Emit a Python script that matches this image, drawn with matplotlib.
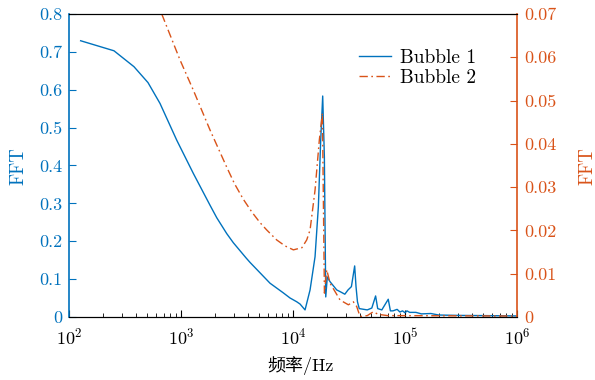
import matplotlib
matplotlib.use("Agg")
import matplotlib.pyplot as plt
from matplotlib.ticker import FuncFormatter, FixedLocator, LogLocator, NullFormatter

# ---- data ----
f1 = [127, 252, 380, 507, 649, 915, 1288, 1815, 2084, 2560, 2930, 3804, 4130, 6232,
      8147, 9400, 10790, 11550, 12800, 14190, 15720, 16830, 17660, 18400, 19040, 19590,
      20230, 21400, 24550, 26300, 29000, 30970, 33200, 35500, 36500, 37600, 39000,
      46000, 50500, 54600, 57000, 62000, 70800, 74000, 78000, 85000, 90000, 95000,
      100000, 104000, 110000, 125000, 140000, 170000, 200000, 300000, 500000, 1000000]
y1 = [0.7295, 0.703, 0.661, 0.619, 0.564, 0.467, 0.379, 0.295, 0.262, 0.220, 0.196,
      0.156, 0.144, 0.089, 0.064, 0.050, 0.040, 0.034, 0.0185, 0.0713, 0.159, 0.291,
      0.467, 0.5835, 0.423, 0.0528, 0.1056, 0.093, 0.0713, 0.0668, 0.060, 0.0713,
      0.080, 0.1347, 0.080, 0.040, 0.022, 0.0185, 0.0235, 0.0554, 0.022, 0.0185,
      0.0467, 0.016, 0.016, 0.020, 0.013, 0.016, 0.011, 0.016, 0.012, 0.012, 0.008,
      0.009, 0.005, 0.004, 0.0035, 0.0026]

f2 = [673, 979, 1288, 1815, 2560, 3000, 3597, 4300, 5070, 5820, 7140, 8500, 10070,
      12000, 13250, 14190, 15720, 17170, 18290, 19060, 20000, 21400, 26300, 31200,
      34500, 37030, 39650, 46000, 52100, 57430, 70000, 100000, 1000000]
y2 = [0.0700, 0.0594, 0.0524, 0.0432, 0.0346, 0.0308, 0.0272, 0.0242, 0.0218, 0.0201,
      0.0178, 0.0164, 0.0155, 0.0160, 0.0178, 0.0201, 0.0293, 0.0409, 0.0471, 0.0055,
      0.0109, 0.0078, 0.0039, 0.0028, 0.0035, 0.0024, 0.0001, 0.0003, 0.0012, 0.0006,
      0.0003, 0.0003, 0.0002]

left_ticks = [0, 0.1, 0.2, 0.3, 0.4, 0.5, 0.6, 0.7, 0.8]
right_ticks = [0, 0.01, 0.02, 0.03, 0.04, 0.05, 0.06, 0.07]
labels = ["Bubble 1", "Bubble 2"]

blue = "#0072BD"
orange = "#D95319"

plt.rcParams["font.family"] = ["cmr10", "Noto Sans CJK SC"]
plt.rcParams["mathtext.fontset"] = "cm"
plt.rcParams["axes.formatter.use_mathtext"] = True
plt.rcParams["font.size"] = 13

fig = plt.figure(figsize=(5.95, 3.8), dpi=100)
ax = fig.add_axes([0.116, 0.166, 0.753, 0.797])
ax2 = ax.twinx()

l1, = ax.plot(f1, y1, color=blue, lw=1.0, label=labels[0])
l2, = ax2.plot(f2, y2, color=orange, lw=1.0, ls=(0, (6, 2.5, 1.2, 2.5)), label=labels[1])

ax.set_xscale("log")
ax.set_xlim(1e2, 1e6)
ax.set_ylim(0, 0.8)
ax2.set_ylim(0, 0.07)
ax.yaxis.set_major_locator(FixedLocator(left_ticks))
ax2.yaxis.set_major_locator(FixedLocator(right_ticks))
fmt = FuncFormatter(lambda v, p: "%g" % v)
ax.yaxis.set_major_formatter(fmt)
ax2.yaxis.set_major_formatter(fmt)
ax.xaxis.set_major_locator(LogLocator(base=10, numticks=10))
ax.xaxis.set_minor_locator(LogLocator(base=10, subs=range(2, 10), numticks=20))
ax.xaxis.set_minor_formatter(NullFormatter())

ax.tick_params(axis="x", which="major", direction="in", length=5, width=0.8, top=False,
               colors="black", pad=7, labelsize=13)
ax.tick_params(axis="x", which="minor", direction="in", length=3, width=0.6, top=False)
ax.tick_params(axis="y", direction="in", length=5, width=0.8, colors=blue,
               labelcolor=blue, labelsize=13, pad=5)
ax2.tick_params(axis="y", direction="in", length=5, width=0.8, colors=orange,
                labelcolor=orange, labelsize=13, pad=5)

ax.spines["left"].set_color(blue)
ax.spines["left"].set_linewidth(1.2)
ax2.spines["left"].set_visible(False)
ax2.spines["right"].set_color(orange)
ax2.spines["right"].set_linewidth(1.2)
ax.spines["right"].set_visible(False)
for a in (ax, ax2):
    a.spines["top"].set_linewidth(0.8)
    a.spines["bottom"].set_linewidth(0.8)

fig.text(18 / 595, 1 - 166 / 380, "FFT", color=blue, fontsize=13.5, rotation=90,
         ha="center", va="center")
fig.text(587 / 595, 1 - 166 / 380, "FFT", color=orange, fontsize=13.5, rotation=90,
         ha="center", va="center")
fig.text(300 / 595, 1 - 366 / 380, "频率/Hz", fontsize=13, ha="center", va="center")

ax2.legend([l1, l2], labels, loc="upper left", bbox_to_anchor=(0.629, 0.91),
           frameon=False, handlelength=1.65, handletextpad=0.5, labelspacing=0.1,
           fontsize=14, borderaxespad=0)

fig.savefig("out.png", dpi=100)
